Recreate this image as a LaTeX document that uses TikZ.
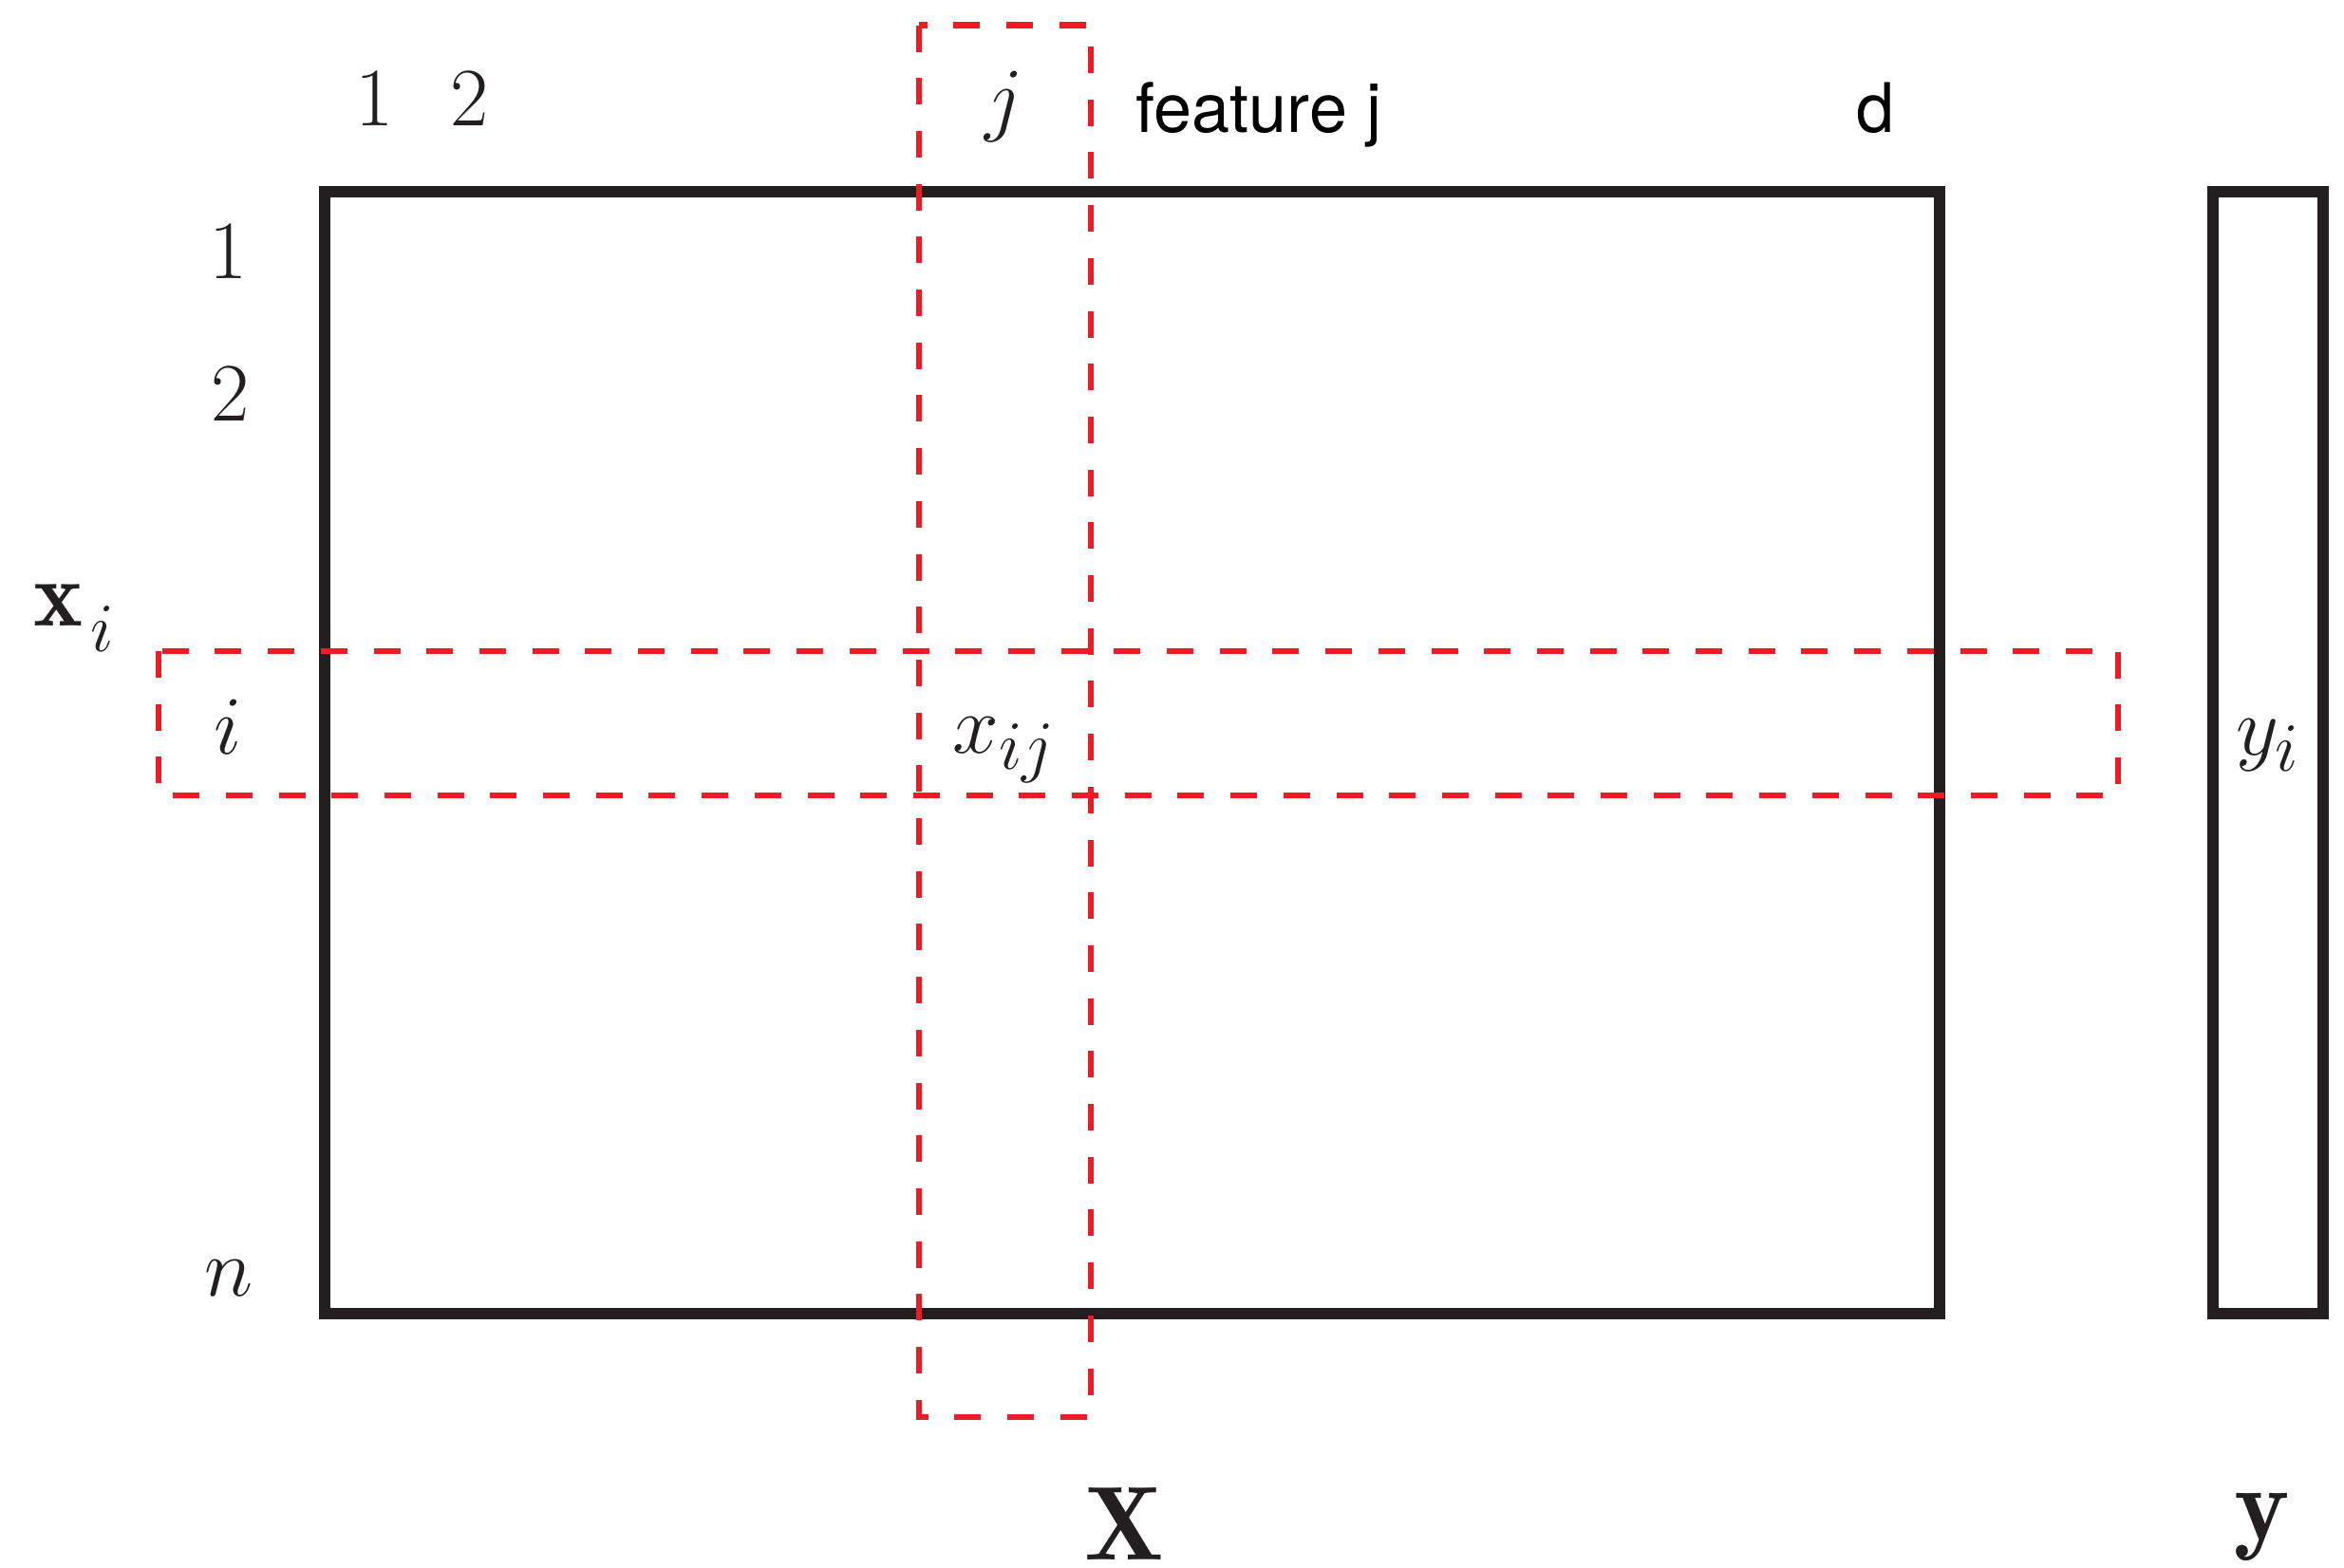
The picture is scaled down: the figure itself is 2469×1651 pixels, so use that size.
\documentclass[tikz,border=0pt]{standalone}
\usepackage{amsmath,amssymb}
\usepackage{fontspec}
\usepackage{tikz}
\usetikzlibrary{positioning}
\newfontfamily\featfont{TeX Gyre Heros}
\definecolor{inkblack}{RGB}{35,31,32}
\definecolor{selred}{RGB}{237,28,36}
\tikzset{
  lbl/.style={font=\fontsize{28}{34}\selectfont,inner sep=0pt,anchor=base,text=inkblack},
  biglbl/.style={font=\fontsize{31.5}{37}\selectfont,inner sep=0pt,anchor=base,text=inkblack},
  sflbl/.style={font=\featfont\fontsize{20.5}{25}\selectfont,inner sep=0pt,anchor=base,text=black},
  matbox/.style={draw=inkblack,line width=1.2mm},
  selbox/.style={draw=selred,line width=0.67mm,dash pattern=on 2.8mm off 2.77mm}
}
\begin{document}
\begin{tikzpicture}[x=0.1mm,y=-0.1mm]
\useasboundingbox (0,0) rectangle (2469,1651);
% data matrix X and target vector y
\coordinate (Xnw) at (342,201.5);
\coordinate (Xse) at (2043,1384);
\coordinate (ynw) at (2331,201.5);
\coordinate (yse) at (2447,1384);
\draw[matbox] (Xnw) rectangle (Xse);
\draw[matbox] (ynw) rectangle (yse);
% selected column j and row i
\coordinate (colnw) at (968,26.5);
\coordinate (colse) at (1149,1493);
\coordinate (rownw) at (167,686);
\coordinate (rowse) at (2231,838);
\draw[selbox] (colnw) rectangle (colse);
\draw[selbox] (rownw) rectangle (rowse);
% column indices
\node[lbl] (c1) at (395,132) {$1$};
\node[lbl] (c2) at (495,132) {$2$};
\node[lbl] (cj) at (1058,132) {$j$};
\node[sflbl,anchor=base west] (feat) at (1196,139) {feature j};
\node[sflbl] (cd) at (1976,139) {d};
% row indices
\node[lbl] (r1) at (241,293) {$1$};
\node[lbl] (r2) at (243,443) {$2$};
\node[lbl] (ri) at (240,794) {$i$};
\node[lbl] (rn) at (241,1365) {$n$};
\node[lbl,anchor=base west] (xi) at (35,659) {$\mathbf{x}_{\mkern2mu\raisebox{-4pt}{$\scriptstyle i$}}$};
% entries
\node[lbl] (xij) at (1058,793) {$x_{ij}$};
\node[lbl] (yi) at (2389,795) {$y_i$};
% names
\node[biglbl] (bX) at (1184,1643) {$\mathbf{X}$};
\node[biglbl] (by) at (2383,1622) {$\mathbf{y}$};
\end{tikzpicture}
\end{document}
